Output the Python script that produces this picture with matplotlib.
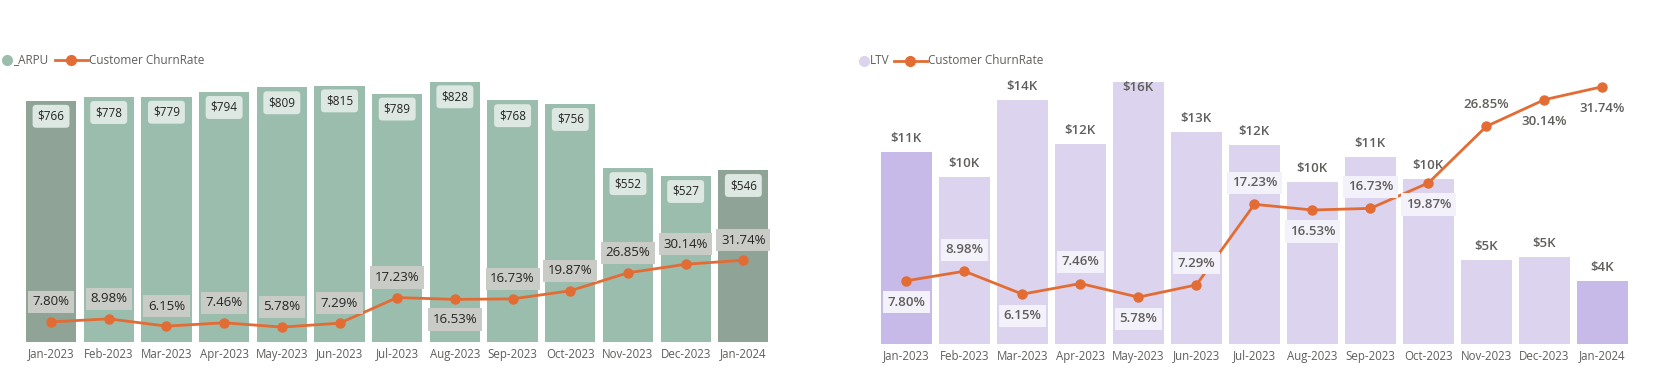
import matplotlib
matplotlib.use('Agg')
import matplotlib.pyplot as plt
from matplotlib.lines import Line2D

plt.rcParams['font.family'] = ['Open Sans', 'DejaVu Sans']

months = ['Jan-2023', 'Feb-2023', 'Mar-2023', 'Apr-2023', 'May-2023', 'Jun-2023', 'Jul-2023',
          'Aug-2023', 'Sep-2023', 'Oct-2023', 'Nov-2023', 'Dec-2023', 'Jan-2024']
arpu = [766, 778, 779, 794, 809, 815, 789, 828, 768, 756, 552, 527, 546]
churn = [7.80, 8.98, 6.15, 7.46, 5.78, 7.29, 17.23, 16.53, 16.73, 19.87, 26.85, 30.14, 31.74]
ltv = [11380, 9910, 14460, 11870, 15530, 12560, 11810, 9610, 11100, 9790, 4970, 5150, 3740]
highlight = ['Jan-2023', 'Jan-2024']

# where the churn label sits relative to its point (1 above, -1 below)
left_side = [1, 1, 1, 1, 1, 1, 1, -1, 1, 1, 1, 1, 1]
right_side = [-1, 1, -1, 1, -1, 1, 1, -1, 1, -1, 1, -1, -1]

W, H = 1676, 386
ORANGE = '#E36C34'
GREY = '#605E5C'

fig = plt.figure(figsize=(W / 100, H / 100), dpi=100)


def px_axes(x0, x1, ytop, ybot):
    return fig.add_axes([x0 / W, (H - ybot) / H, (x1 - x0) / W, (ybot - ytop) / H])


def clean(ax):
    for s in ax.spines.values():
        s.set_visible(False)
    ax.set_yticks([])
    ax.tick_params(axis='x', length=0, pad=4, labelsize=8.3, labelcolor=GREY)


x = list(range(len(months)))

# ---------------- left chart: ARPU ----------------
ax1 = px_axes(22.2, 772.2, 70, 342)
cols = ['#8FA397' if m in highlight else '#9BBDAE' for m in months]
ax1.bar(x, arpu, width=0.87, color=cols)
ax1.set_xlim(-0.5, len(months) - 0.5)
ax1.set_ylim(0, 864.6)
ax1.set_xticks(x)
ax1.set_xticklabels(months)
clean(ax1)
for i, v in enumerate(arpu):
    ax1.annotate(f'${v}', (i, v), xytext=(0, -11), textcoords='offset points',
                 ha='center', va='center', fontsize=8.5, color='#252423',
                 bbox=dict(boxstyle='round,pad=0.42,rounding_size=0.3', fc='#DDE8E3', ec='none'))

ax1b = ax1.twinx()
ax1b.set_ylim(0, 105.5)
ax1b.plot(x, churn, color=ORANGE, lw=2, marker='o', markersize=6.5)
clean(ax1b)
for i, v in enumerate(churn):
    ax1b.annotate(f'{v:.2f}%', (i, v), xytext=(0, 14.5 * left_side[i]), textcoords='offset points',
                  ha='center', va='center', fontsize=9.5, color='#252423',
                  bbox=dict(boxstyle='square,pad=0.35', fc='#C9CBC6', ec='none'))

# ---------------- right chart: LTV ----------------
ax2 = px_axes(877.4, 1631.4, 70, 344)
cols = ['#C7BAE8' if m in highlight else '#DCD4EE' for m in months]
ax2.bar(x, ltv, width=0.87, color=cols)
ax2.set_xlim(-0.5, len(months) - 0.5)
ax2.set_ylim(0, 16260)
ax2.set_xticks(x)
ax2.set_xticklabels(months)
clean(ax2)
for i, v in enumerate(ltv):
    off = 10 if v < 14800 else -4
    ax2.annotate(f'${round(v / 1000)}K', (i, v), xytext=(0, off), textcoords='offset points',
                 ha='center', va='center', fontsize=9.5, color=GREY, fontweight='semibold')

ax2b = ax2.twinx()
ax2b.set_ylim(0, 33.8)
ax2b.plot(x, churn, color=ORANGE, lw=2, marker='o', markersize=6.5, zorder=3)
clean(ax2b)
for i, v in enumerate(churn):
    fc = '#F3F1F9' if v < 25 else 'none'
    ax2b.annotate(f'{v:.2f}%', (i, v), xytext=(0, 15.5 * right_side[i]), textcoords='offset points',
                  ha='center', va='center', fontsize=9.5, color=GREY, fontweight='semibold',
                  bbox=dict(boxstyle='square,pad=0.35', fc=fc, ec='none'))

# ---------------- legends ----------------
def legend(xc, y, bar_color, label, xl0):
    fy = 1 - y / H
    fig.add_artist(Line2D([xc / W], [fy], marker='o', markersize=7, color=bar_color,
                          linestyle='none', transform=fig.transFigure))
    fig.text((xc + 6) / W, fy, label, fontsize=8.5, color=GREY, va='center', ha='left')
    fig.add_artist(Line2D([xl0 / W, (xl0 + 33) / W], [fy, fy], color=ORANGE, lw=2,
                          transform=fig.transFigure))
    fig.add_artist(Line2D([(xl0 + 16) / W], [fy], marker='o', markersize=7, color=ORANGE,
                          linestyle='none', transform=fig.transFigure))
    fig.text((xl0 + 34) / W, fy, 'Customer ChurnRate', fontsize=8.5, color=GREY,
             va='center', ha='left')


legend(7, 60, '#9BBDAE', '_ARPU', 55)
legend(864, 60.5, '#DCD4EE', 'LTV', 894)

fig.savefig('out.png', dpi=100)
